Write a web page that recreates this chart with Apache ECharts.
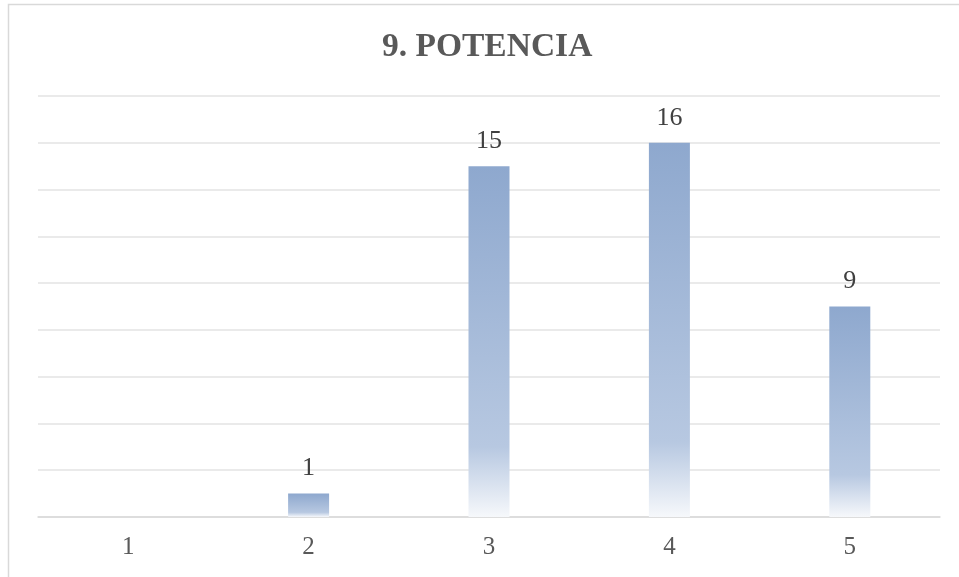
<!DOCTYPE html>
<html><head><meta charset="utf-8">
<script src="https://cdn.jsdelivr.net/npm/echarts@6/dist/echarts.min.js"></script>
<style>html,body{margin:0;padding:0;background:#fff}#c{width:959px;height:577px}</style>
</head><body><div id="c"></div>
<script>
const title = '9. POTENCIA';
const categories = ['1', '2', '3', '4', '5'];
const values = [0, 1, 15, 16, 9];
const yMax = 18, yInterval = 2;

const chart = echarts.init(document.getElementById('c'), null, {renderer: 'canvas'});
chart.setOption({
  animation: false,
  backgroundColor: '#fff',
  title: {
    text: title, left: 377, top: 25,
    textStyle: {fontFamily: 'Liberation Serif', fontWeight: 'bold', fontSize: 33.5, color: '#595959'}
  },
  graphic: [{
    type: 'rect', shape: {x: 8.5, y: 4.5, width: 1000, height: 1000},
    style: {fill: 'none', stroke: '#d9d9d9', lineWidth: 1.5}, silent: true
  }],
  grid: {left: 38, right: 19, top: 96, bottom: 60},
  xAxis: {
    type: 'category', data: categories,
    axisLine: {lineStyle: {color: '#d9d9d9', width: 1.5}},
    axisTick: {show: false},
    axisLabel: {fontFamily: 'Liberation Serif', fontSize: 25, color: '#595959', margin: 18}
  },
  yAxis: {
    type: 'value', min: 0, max: yMax, interval: yInterval,
    axisLabel: {show: false}, axisLine: {show: false}, axisTick: {show: false},
    splitLine: {lineStyle: {color: '#e3e3e3', width: 1.5}}
  },
  series: [{
    type: 'bar', data: values, barWidth: 41,
    itemStyle: {
      color: new echarts.graphic.LinearGradient(0, 0, 0, 1, [
        {offset: 0, color: '#8ea8ce'},
        {offset: 0.8, color: '#b7c8e1'},
        {offset: 1, color: '#f6f8fb'}
      ])
    },
    label: {
      show: true, position: 'top', distance: 12,
      fontFamily: 'Liberation Serif', fontSize: 26, color: '#404040',
      formatter: p => p.value > 0 ? String(p.value) : ''
    }
  }]
});
</script></body></html>
